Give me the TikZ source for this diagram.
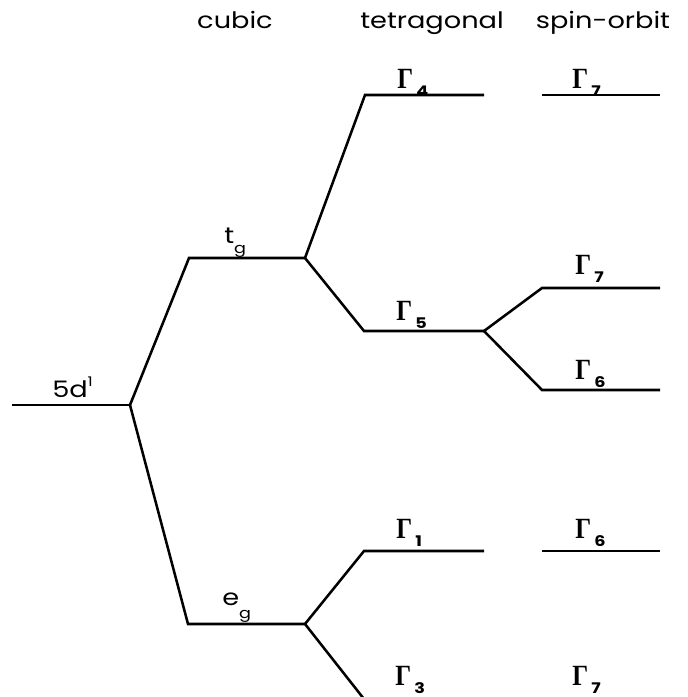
\documentclass[tikz,border=0pt]{standalone}
\usepackage{fontspec}
\newfontfamily\plotfont[FakeStretch=1.2]{Poppins}
\newfontfamily\gfont[FakeStretch=0.85]{Liberation Serif}
\newcommand\Glab[1]{{\gfont\bfseries\fontsize{22}{22}\selectfont Γ}\hspace{2.5pt}\raisebox{-6pt}{\plotfont\fontsize{11}{11}\selectfont\bfseries #1}}
\newcommand\subg[2]{#1\raisebox{-#2}{\fontsize{11}{11}\selectfont g}}
\begin{document}
\begin{tikzpicture}[x=0.75pt,y=-0.75pt,
  level/.style={line width=1.9pt, line join=miter},
  lab/.style={inner sep=0pt, anchor=base west},
  head/.style={inner sep=0pt, anchor=base},
  every node/.style={font=\plotfont\fontsize{17}{17}\selectfont}]
\useasboundingbox (0,0) rectangle (688,697);
\clip (0,0) rectangle (688,697);
% level end points
\coordinate (d0) at (12,405);   \coordinate (d1) at (130,405);
\coordinate (t0) at (189,258);  \coordinate (t1) at (305,258);
\coordinate (e0) at (188,624);  \coordinate (e1) at (305,624);
\coordinate (g4a) at (365,95);  \coordinate (g4b) at (484,95);
\coordinate (g5a) at (364,331); \coordinate (g5b) at (484,331);
\coordinate (g1a) at (364,551); \coordinate (g1b) at (484,551);
\coordinate (g3a) at (364,699); \coordinate (g3b) at (484,699);
\coordinate (s7a) at (542,95);  \coordinate (s7b) at (660,95);
\coordinate (m7a) at (542,288); \coordinate (m7b) at (660,288);
\coordinate (m6a) at (542,390); \coordinate (m6b) at (660,390);
\coordinate (b6a) at (542,551); \coordinate (b6b) at (660,551);
% levels and connectors
\draw[level] (d0) -- (d1);
\draw[level] (d1) -- (t0) -- (t1);
\draw[level] (d1) -- (e0) -- (e1);
\draw[level] (t1) -- (g4a) -- (g4b);
\draw[level] (t1) -- (g5a) -- (g5b);
\draw[level] (g5b) -- (m7a) -- (m7b);
\draw[level] (g5b) -- (m6a) -- (m6b);
\draw[level] (s7a) -- (s7b);
\draw[level] (e1) -- (g1a) -- (g1b);
\draw[level] (e1) -- (g3a) -- (g3b);
\draw[level] (b6a) -- (b6b);
% headers
\node[head] (hc) at (235,28) {cubic};
\node[head] (ht) at (432,28) {tetragonal};
\node[head] (hs) at (603,28) {spin-orbit};
% labels
\node[lab] (l5d) at (52,397) {5d\raisebox{8pt}{\fontsize{10}{10}\selectfont 1}};
\node[lab] (ltg) at (224,243) {\subg{t}{8pt}};
\node[lab] (leg) at (222,605) {\subg{e}{10pt}};
\node[lab] (lg4) at (397,88) {\Glab{4}};
\node[lab] (lg5) at (396,320) {\Glab{5}};
\node[lab] (lg1) at (396,538) {\Glab{1}};
\node[lab] (lg3) at (395,685) {\Glab{3}};
\node[lab] (ls7) at (572,88) {\Glab{7}};
\node[lab] (lm7) at (575,274) {\Glab{7}};
\node[lab] (lm6) at (575,379) {\Glab{6}};
\node[lab] (lb6) at (575,538) {\Glab{6}};
\node[lab] (lb7) at (572,685) {\Glab{7}};
\end{tikzpicture}
\end{document}
